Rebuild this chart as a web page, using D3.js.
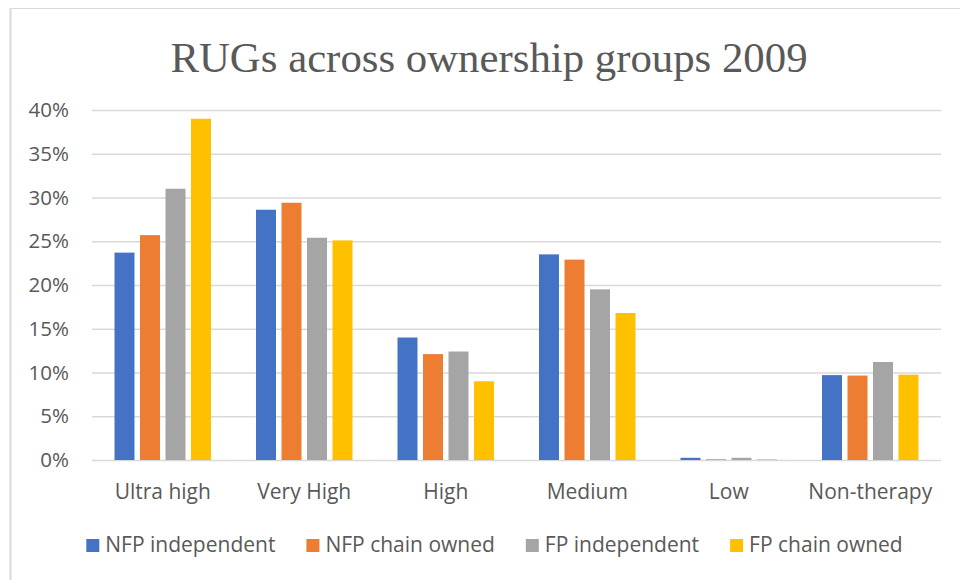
<!DOCTYPE html>
<html>
<head>
<meta charset="utf-8">
<script src="https://cdn.jsdelivr.net/npm/d3@7"></script>
<style>
  html, body { margin: 0; padding: 0; background: #fff; }
  svg { display: block; }
</style>
</head>
<body>
<svg id="chart" width="960" height="580"></svg>
<script>
// RUG category shares by ownership group, 2009
const categories = ["Ultra high", "Very High", "High", "Medium", "Low", "Non-therapy"];
const seriesNames = ["NFP independent", "NFP chain owned", "FP independent", "FP chain owned"];
const nfpIndependent = [0.237, 0.286, 0.140, 0.235, 0.0025, 0.097];
const nfpChainOwned  = [0.257, 0.294, 0.121, 0.229, 0.0008, 0.0965];
const fpIndependent  = [0.310, 0.254, 0.124, 0.195, 0.0025, 0.112];
const fpChainOwned   = [0.390, 0.251, 0.090, 0.168, 0.0008, 0.0975];
const seriesValues = [nfpIndependent, nfpChainOwned, fpIndependent, fpChainOwned];
const seriesColors = ["#4472C4", "#ED7D31", "#A5A5A5", "#FFC000"];
const yTicks = [0, 0.05, 0.10, 0.15, 0.20, 0.25, 0.30, 0.35, 0.40];
const titleText = "RUGs across ownership groups 2009";

const svg = d3.select("#chart");
const labelFont = "'Open Sans', 'Noto Sans', sans-serif";
const textColor = "#595959";

// chart area frame (top and left edges)
svg.append("line").attr("x1", 10).attr("x2", 960).attr("y1", 8.5).attr("y2", 8.5)
  .attr("stroke", "#d9d9d9").attr("stroke-width", 1);
svg.append("line").attr("x1", 10.5).attr("x2", 10.5).attr("y1", 8).attr("y2", 580)
  .attr("stroke", "#d9d9d9").attr("stroke-width", 2);

const plot = { left: 92, right: 941, top: 110, bottom: 460 };

const x0 = d3.scaleBand()
  .domain(categories)
  .range([plot.left, plot.right])
  .paddingInner(0.318)
  .paddingOuter(0.159);

const x1 = d3.scaleBand()
  .domain(seriesNames)
  .range([0, x0.bandwidth()])
  .paddingInner(0.216);

const y = d3.scaleLinear().domain([0, 0.4]).range([plot.bottom, plot.top]);

// title
svg.append("text")
  .attr("x", 489).attr("y", 72)
  .attr("text-anchor", "middle")
  .attr("font-family", "'Liberation Serif', 'Times New Roman', serif")
  .attr("font-size", 42.8)
  .attr("fill", textColor)
  .text(titleText);

// gridlines + y labels via axis
const yAxis = d3.axisLeft(y)
  .tickValues(yTicks)
  .tickFormat(d3.format(".0%"))
  .tickSize(-(plot.right - plot.left))
  .tickPadding(23);

const gy = svg.append("g")
  .attr("transform", `translate(${plot.left},0)`)
  .call(yAxis);
gy.select(".domain").remove();
gy.selectAll(".tick line").attr("stroke", "#d9d9d9").attr("stroke-width", 1.3);
gy.selectAll(".tick text")
  .attr("font-family", labelFont)
  .attr("font-size", 20.5)
  .attr("fill", textColor);

// bars
const groups = svg.append("g").selectAll("g")
  .data(categories)
  .join("g")
  .attr("transform", d => `translate(${x0(d)},0)`);

groups.selectAll("rect")
  .data((c, ci) => seriesNames.map((s, si) => ({ s, si, v: seriesValues[si][ci] })))
  .join("rect")
  .attr("x", d => x1(d.s))
  .attr("width", x1.bandwidth())
  .attr("y", d => y(d.v))
  .attr("height", d => y(0) - y(d.v))
  .attr("fill", d => seriesColors[d.si]);

// category axis labels
const xAxis = d3.axisBottom(x0).tickSize(0).tickPadding(24);
const gx = svg.append("g")
  .attr("transform", `translate(0,${plot.bottom})`)
  .call(xAxis);
gx.select(".domain").remove();
gx.selectAll(".tick text")
  .attr("font-family", labelFont)
  .attr("font-size", 21)
  .attr("fill", textColor);

// legend
const legend = svg.append("g");
const items = legend.selectAll("g")
  .data(seriesNames)
  .join("g");
items.append("rect")
  .attr("width", 13).attr("height", 13)
  .attr("y", 539)
  .attr("fill", (d, i) => seriesColors[i]);
items.append("text")
  .attr("x", 19)
  .attr("y", 552)
  .attr("font-family", labelFont)
  .attr("font-size", 21)
  .attr("fill", textColor)
  .text(d => d);

const gap = 31;
const widths = items.nodes().map(n => 19 + d3.select(n).select("text").node().getComputedTextLength());
const total = d3.sum(widths) + gap * (widths.length - 1);
let cursor = 494.5 - total / 2;
items.each(function (d, i) {
  d3.select(this).attr("transform", `translate(${cursor},0)`);
  cursor += widths[i] + gap;
});
</script>
</body>
</html>
